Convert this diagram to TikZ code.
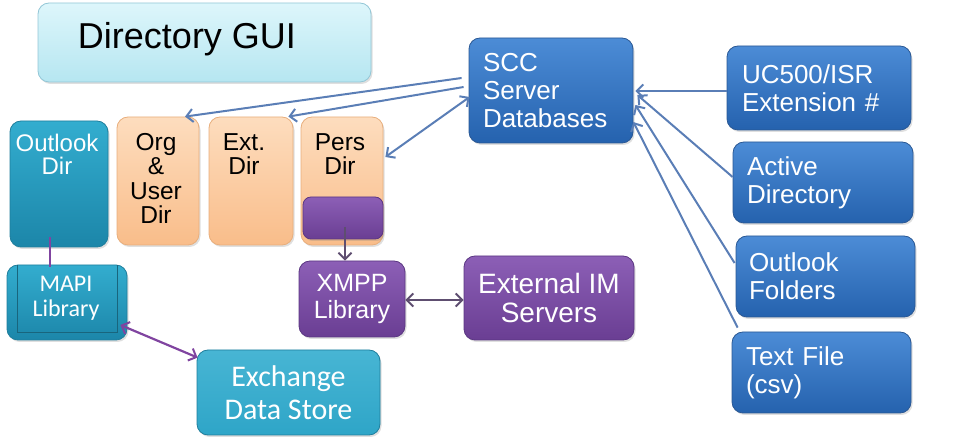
\documentclass[tikz,border=0pt]{standalone}
\usepackage{fontspec}
\setmainfont{Liberation Sans}
\newfontfamily\calfont{Carlito}
\usetikzlibrary{arrows.meta,shadows}
\definecolor{blueA}{HTML}{4C8CD6}
\definecolor{blueB}{HTML}{2562AE}
\definecolor{blueD}{HTML}{2A5894}
\definecolor{tealA}{HTML}{33ADCF}
\definecolor{tealB}{HTML}{1C86A9}
\definecolor{tealD}{HTML}{1F7E9C}
\definecolor{peachA}{HTML}{FDDDBE}
\definecolor{peachB}{HTML}{F9BD8A}
\definecolor{peachD}{HTML}{E8AE7C}
\definecolor{purA}{HTML}{8C5FB6}
\definecolor{purB}{HTML}{6A3E93}
\definecolor{purD}{HTML}{5B3782}
\definecolor{guiA}{HTML}{DDF6FB}
\definecolor{guiB}{HTML}{B6E6F1}
\definecolor{guiD}{HTML}{92C6D6}
\definecolor{lnblue}{HTML}{5A7EB6}
\definecolor{lnpur}{HTML}{8044A0}
\definecolor{lngray}{HTML}{5E4E70}
\tikzset{
  box/.style={rounded corners=11pt, line width=0.8pt, inner sep=0pt,
    drop shadow={shadow xshift=1.5pt,shadow yshift=-2pt,opacity=0.25}},
  bluebox/.style={box, top color=blueA, bottom color=blueB, draw=blueD,
    text=white, align=left, font=\fontsize{26}{28}\selectfont},
  tealbox/.style={box, top color=tealA, bottom color=tealB, draw=tealD, text=white},
  peachbox/.style={box, top color=peachA, bottom color=peachB, draw=peachD},
  purbox/.style={box, top color=purA, bottom color=purB, draw=purD, text=white,
    align=center, font=\fontsize{25}{26.5}\selectfont},
  dirtext/.style={anchor=north, inner sep=0pt, align=center,
    font=\fontsize{24.5}{24.5}\selectfont},
  barb/.style={line width=2pt},
  tip/.tip={Straight Barb[length=6.5pt,width=13pt,line width=2pt]},
}
\begin{document}
\begin{tikzpicture}[x=1pt,y=-1pt]
\useasboundingbox (0,0) rectangle (975,443);
% Directory GUI
\node[box, top color=guiA, bottom color=guiB, draw=guiD,
  minimum width=333pt, minimum height=79pt] (gui) at (204.5,42.5) {};
\node[anchor=base, inner sep=0pt, font=\fontsize{36}{38}\selectfont] (guit) at (187,49) {Directory GUI};
% directory boxes
\node[tealbox, minimum width=98pt, minimum height=126pt] (od) at (59,184) {};
\node[dirtext, text=white, font=\fontsize{24}{23}\selectfont] (odt) at (57,134) {Outlook\\Dir};
\node[peachbox, minimum width=82pt, minimum height=128pt] (org) at (158,181) {};
\node[dirtext] (orgt) at (156,133) {Org\\\&\\User\\Dir};
\node[peachbox, minimum width=84pt, minimum height=128pt] (ext) at (251,181) {};
\node[dirtext] (extt) at (244,133) {Ext.\\Dir};
\node[peachbox, minimum width=82pt, minimum height=128pt] (pers) at (342,181) {};
\node[dirtext] (perst) at (340,133) {Pers\\Dir};
\node[purbox, rounded corners=8pt, minimum width=80pt, minimum height=42pt] (persin) at (343,218) {};
% SCC
\node[bluebox, inner xsep=14pt, text width=136pt, minimum height=105pt] (scc) at (551,90.5) {SCC\\Server\\Databases};
% sources
\node[bluebox, inner xsep=15pt, text width=154pt, minimum height=84pt] (uc) at (819,88) {UC500/ISR\\Extension \#};
\node[bluebox, inner xsep=14pt, text width=152pt, minimum height=81pt] (ad) at (823,182.5) {\raisebox{4pt}{\parbox[t]{152pt}{Active\\Directory}}};
\node[bluebox, inner xsep=13pt, text width=153pt, minimum height=81pt] (of) at (825.5,276.5) {Outlook\\Folders};
\node[bluebox, inner xsep=14pt, text width=151pt, minimum height=81pt] (tf) at (821.5,372.5) {Text File\\(csv)};
% purple
\node[purbox, minimum width=106pt, minimum height=76pt] (xmpp) at (352,299) {XMPP\\Library};
\node[purbox, minimum width=170pt, minimum height=84pt, font=\fontsize{28}{29}\selectfont] (eim) at (549,298) {External IM\\Servers};
% MAPI & Exchange
\node[tealbox, minimum width=120pt, minimum height=75pt] (mapi) at (67,302.5) {};
\draw[tealD!80!black, line width=0.6pt] (17,265.5) -- (17,332) -- (117,332) -- (117,265.5);
\node[inner sep=0pt, align=center, text=white, font=\calfont\fontsize{24}{25}\selectfont] (mapit) at (66,298.5) {MAPI\\Library};
\node[tealbox, top color=tealA!90!white, bottom color=tealA!80!tealB, minimum width=183pt, minimum height=85pt,
  align=center, font=\calfont\fontsize{30}{33}\selectfont] (ex) at (288.5,392.5) {Exchange\\Data Store};
% connectors blue
\draw[lnblue, barb, -tip] ([xshift=-7pt,yshift=12.5pt]scc.west) -- ([xshift=27pt]org.north);
\draw[lnblue, barb, -tip] ([xshift=-5pt,yshift=3.5pt]scc.west) -- ([xshift=-5pt]ext.north east);
\draw[lnblue, barb, tip-tip] ([xshift=1pt,yshift=-6.5pt]scc.west) -- ([xshift=2pt,yshift=24pt]pers.east);
\draw[lnblue, barb, -tip] ([yshift=-3pt]uc.west) -- ([xshift=2pt,yshift=-0.5pt]scc.east);
\draw[lnblue, barb, -tip] ([yshift=5.5pt]ad.west) -- ([xshift=4pt,yshift=-4.5pt]scc.east);
\draw[lnblue, barb, -tip] ([xshift=-1pt,yshift=13.5pt]of.west) -- ([xshift=2pt,yshift=-14.5pt]scc.east);
\draw[lnblue, barb, -tip] ([xshift=6pt,yshift=4pt]tf.north west) -- ([yshift=-31.5pt]scc.east);
% connectors purple
\draw[lngray, line width=2.4pt, -tip] ([xshift=2pt,yshift=-9pt]persin.center) -- ([xshift=-7pt]xmpp.north);
\draw[lngray, line width=2.2pt, tip-tip] ([yshift=-1pt]xmpp.east) -- ([yshift=-2pt]eim.west);
\draw[lnpur, line width=2.4pt] ([xshift=-9pt,yshift=10pt]od.south) -- ([xshift=-17pt,yshift=-2pt]mapi.north);
\draw[lnpur, line width=2.2pt, tip-tip] ([xshift=-7pt,yshift=-22.5pt]mapi.east) -- ([xshift=1pt,yshift=-8pt]ex.north west);
\end{tikzpicture}
\end{document}
